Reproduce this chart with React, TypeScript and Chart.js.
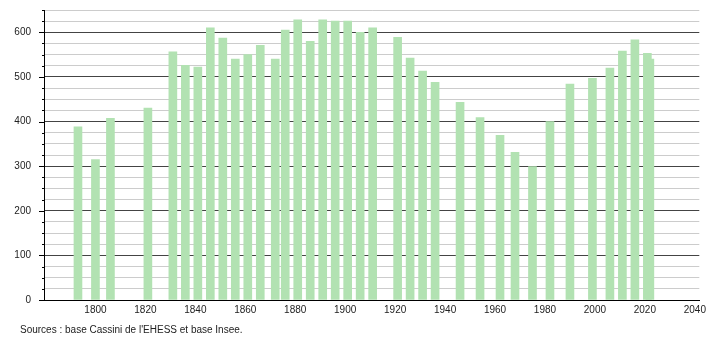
import React, { useEffect, useRef } from "react";
import { Chart, registerables } from "chart.js";

Chart.register(...registerables);

const years = [
  1793, 1800, 1806, 1821, 1831, 1836, 1841, 1846, 1851, 1856, 1861, 1866, 1872, 1876,
  1881, 1886, 1891, 1896, 1901, 1906, 1911, 1921, 1926, 1931, 1936, 1946, 1954, 1962,
  1968, 1975, 1982, 1990, 1999, 2006, 2011, 2016, 2021, 2022,
];
const population = [
  388, 315, 407, 430, 556, 526, 522, 610, 587, 540, 550, 571, 540, 605,
  628, 580, 628, 625, 625, 600, 610, 589, 542, 513, 488, 443, 409, 369,
  331, 299, 400, 484, 497, 520, 558, 583, 553, 540,
];
const xTicks = [1800, 1820, 1840, 1860, 1880, 1900, 1920, 1940, 1960, 1980, 2000, 2020, 2040];
const sourceText = "Sources : base Cassini de l'EHESS et base Insee.";

const FONT = "'Liberation Sans', Arial, Helvetica, sans-serif";

export default function App() {
  const ref = useRef<HTMLCanvasElement | null>(null);

  useEffect(() => {
    if (!ref.current) return;
    const extras = {
      id: "extras",
      afterDraw(chart: any) {
        const ctx = chart.ctx;
        const y = chart.scales.y;
        const left = chart.chartArea.left;
        ctx.save();
        ctx.strokeStyle = "#000";
        ctx.lineWidth = 1;
        y.ticks.forEach((t: any) => {
          const py = Math.round(y.getPixelForValue(t.value)) + 0.5;
          const len = t.value % 100 === 0 ? 5 : 2;
          ctx.beginPath();
          ctx.moveTo(left - len, py);
          ctx.lineTo(left, py);
          ctx.stroke();
        });
        ctx.fillStyle = "#222";
        ctx.font = "10px " + FONT;
        ctx.textBaseline = "middle";
        ctx.textAlign = "left";
        ctx.fillText(sourceText, 20, 330);
        ctx.restore();
      },
    };
    const chart = new Chart(ref.current, {
      type: "bar",
      data: {
        datasets: [
          {
            data: years.map((yr, i) => ({ x: yr, y: population[i] })),
            backgroundColor: "#b2e2b2",
            borderWidth: 0,
            barThickness: 8,
          },
        ],
      },
      options: {
        responsive: false,
        animation: false,
        layout: { padding: { left: 0, right: 9, top: 10, bottom: 0 } },
        plugins: { legend: { display: false }, tooltip: { enabled: false } },
        scales: {
          x: {
            type: "linear",
            min: 1779.4,
            max: 2041.8,
            offset: false,
            afterBuildTicks: (s: any) => {
              s.ticks = xTicks.map((v) => ({ value: v }));
            },
            afterFit: (s: any) => {
              s.height = 40;
            },
            grid: { display: false, drawTicks: false },
            border: { display: true, color: "#000", width: 1 },
            ticks: {
              autoSkip: false,
              maxRotation: 0,
              padding: 4,
              color: "#222",
              font: { size: 10, family: FONT },
              callback: (v: any) => String(v),
            },
          },
          y: {
            min: 0,
            max: 650,
            afterFit: (s: any) => {
              s.width = 44;
              s.paddingTop = 0;
              s.paddingBottom = 0;
            },
            grid: {
              drawTicks: false,
              color: (c: any) => (c.tick && c.tick.value % 100 === 0 ? "#444" : "#ccc"),
              lineWidth: 1,
            },
            border: { display: true, color: "#000", width: 1 },
            ticks: {
              stepSize: 25,
              autoSkip: false,
              padding: 13,
              color: "#222",
              font: { size: 10, family: FONT },
              callback: (v: any) => (Number(v) % 100 === 0 ? String(v) : ""),
            },
          },
        },
      },
      plugins: [extras],
    } as any);
    return () => chart.destroy();
  }, []);

  return (
    <div style={{ position: "absolute", left: 0, top: 0, width: 710, height: 340, background: "#fff" }}>
      <canvas ref={ref} width={710} height={340} style={{ display: "block" }} />
    </div>
  );
}
